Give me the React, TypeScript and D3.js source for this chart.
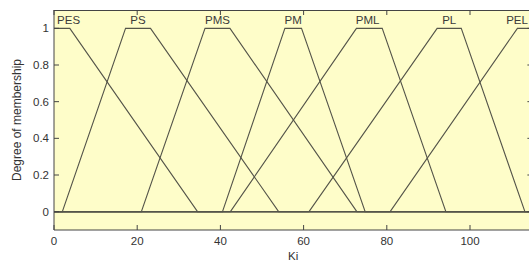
import * as d3 from "d3";

// membership functions (trapezoids: a, b, c, d)
const mfNames = ["PES", "PS", "PMS", "PM", "PML", "PL", "PEL"];
const mfA = [-31, 2, 21, 40.5, 42.4, 61.3, 80.8];
const mfB = [-3, 17.2, 36.3, 55.5, 72.7, 92.1, 111.4];
const mfC = [3.8, 23.2, 42.3, 59.5, 78.9, 97.9, 118];
const mfD = [34.5, 54, 72.8, 74.8, 94.2, 113.2, 150];
const labelAt = [3.5, 20.2, 39.3, 57.5, 75.4, 95, 111.3];

const xTicks = [0, 20, 40, 60, 80, 100];
const yTicks = [0, 0.2, 0.4, 0.6, 0.8, 1];

const App = () => {
    const width = 529;
    const height = 264;
    const left = 54;
    const right = 532.4; // axes box runs a bit past the crop
    const top = 10;
    const bottom = 230;

    const x = d3.scaleLinear([0, 115], [left, right]);
    const y = d3.scaleLinear([-0.1, 1.1], [bottom, top]);
    const line = d3.line<[number, number]>(d => x(d[0]), d => y(d[1]));

    const font = "'Liberation Sans', Arial, sans-serif";
    const ink = "#55554a";
    const axisInk = "#444";
    const tickLen = 5;

    return (
        <svg width={width} height={height} style={{position: "absolute", left: 0, top: 0}}
            fontFamily={font}>
            <rect x={0} y={0} width={width} height={height} fill="#ffffff" />
            <defs>
                <clipPath id="plot">
                    <rect x={left} y={top} width={right - left} height={bottom - top} />
                </clipPath>
            </defs>
            <rect x={left} y={top} width={right - left} height={bottom - top} fill="#fefdc9" />

            <g clipPath="url(#plot)" fill="none" stroke={ink} strokeWidth="1.1">
                <path d={line([[0, 0], [115, 0]])} />
                {mfNames.map((n, i) => (
                    <path key={n} d={line([[-40, 0], [mfA[i], 0], [mfB[i], 1], [mfC[i], 1], [mfD[i], 0], [160, 0]])} />
                ))}
            </g>

            {/* labels above each plateau */}
            <g fontSize="11.5" fill="#3a3a3a" textAnchor="middle">
                {mfNames.map((n, i) => (
                    <text key={n} x={x(labelAt[i])} y={y(1) - 4}>{n}</text>
                ))}
            </g>

            {/* box + ticks */}
            <g stroke={axisInk} strokeWidth="1">
                <line x1={left} x2={left} y1={top} y2={bottom} />
                <line x1={right} x2={right} y1={top} y2={bottom} />
                <line x1={left} x2={right} y1={top + 0.5} y2={top + 0.5} />
                <line x1={left} x2={right} y1={bottom} y2={bottom} />
                {xTicks.map(t => (
                    <g key={t}>
                        <line x1={x(t)} x2={x(t)} y1={bottom} y2={bottom - tickLen} />
                        <line x1={x(t)} x2={x(t)} y1={top} y2={top + tickLen} />
                    </g>
                ))}
                {yTicks.map(t => (
                    <g key={t}>
                        <line x1={left} x2={left + tickLen} y1={y(t)} y2={y(t)} />
                        <line x1={right} x2={right - tickLen} y1={y(t)} y2={y(t)} />
                    </g>
                ))}
            </g>

            <g fontSize="11.5" fill="#333">
                {xTicks.map(t => (
                    <text key={t} x={x(t)} y={bottom + 15} textAnchor="middle">{t}</text>
                ))}
                {yTicks.map(t => (
                    <text key={t} x={left - 5} y={y(t) + 4} textAnchor="end">{t}</text>
                ))}
                <text x={(left + right) / 2} y={bottom + 30} textAnchor="middle">Ki</text>
                <text transform={`translate(21,${(top + bottom) / 2}) rotate(-90)`} textAnchor="middle"
                    fontSize="12">Degree of membership</text>
            </g>
        </svg>
    );
};

export default App;
